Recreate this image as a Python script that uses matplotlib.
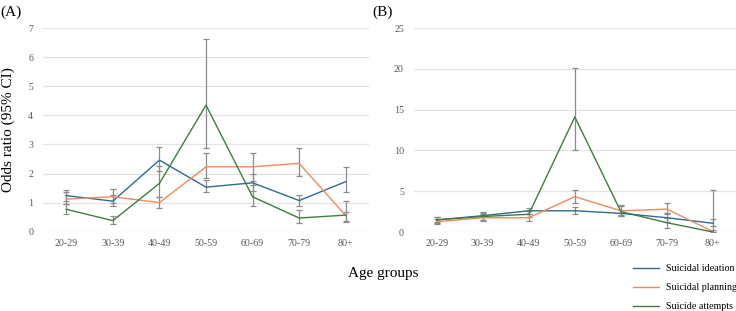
import numpy as np
import matplotlib
matplotlib.use("Agg")
import matplotlib.pyplot as plt

plt.rcParams['font.family'] = ['Liberation Serif', 'DejaVu Serif']

age_groups = ["20-29", "30-39", "40-49", "50-59", "60-69", "70-79", "80+"]
series_names = ["Suicidal ideation", "Suicidal planning", "Suicide attempts"]
colors = ["#2e6b8f", "#f08a5a", "#3f7d3f"]

# panel A: odds ratio, lower CI, upper CI
a_ideation = [1.24, 1.05, 2.46, 1.53, 1.68, 1.07, 1.72]
a_ideation_lo = [1.05, 0.90, 2.10, 1.35, 1.40, 0.90, 1.35]
a_ideation_hi = [1.42, 1.25, 2.92, 1.78, 1.97, 1.25, 2.22]
a_planning = [1.12, 1.20, 1.00, 2.23, 2.23, 2.35, 0.55]
a_planning_lo = [0.95, 0.98, 0.83, 1.85, 1.75, 1.90, 0.36]
a_planning_hi = [1.35, 1.48, 1.20, 2.72, 2.70, 2.88, 0.68]
a_attempts = [0.77, 0.38, 1.66, 4.35, 1.20, 0.47, 0.57]
a_attempts_lo = [0.60, 0.27, 1.20, 2.87, 0.88, 0.30, 0.35]
a_attempts_hi = [0.95, 0.55, 2.25, 6.61, 1.60, 0.75, 1.05]

# panel B
b_ideation = [1.47, 2.00, 2.60, 2.60, 2.29, 1.75, 1.07]
b_ideation_lo = [1.10, 1.50, 2.20, 2.20, 1.95, 1.20, 0.70]
b_ideation_hi = [1.80, 2.40, 3.00, 3.10, 2.70, 2.30, 1.60]
b_planning = [1.26, 1.75, 1.75, 4.33, 2.60, 2.80, 0.05]
b_planning_lo = [0.95, 1.40, 1.40, 3.50, 2.10, 2.20, 0.00]
b_planning_hi = [1.60, 2.20, 2.20, 5.20, 3.30, 3.50, 0.30]
b_attempts = [1.50, 1.90, 2.17, 14.10, 2.50, 1.14, 0.00]
b_attempts_lo = [1.20, 1.50, 1.80, 10.00, 2.00, 0.50, 0.00]
b_attempts_hi = [1.80, 2.30, 2.60, 20.10, 3.20, 1.70, 5.15]

panel_a = [(a_ideation, a_ideation_lo, a_ideation_hi),
           (a_planning, a_planning_lo, a_planning_hi),
           (a_attempts, a_attempts_lo, a_attempts_hi)]
panel_b = [(b_ideation, b_ideation_lo, b_ideation_hi),
           (b_planning, b_planning_lo, b_planning_hi),
           (b_attempts, b_attempts_lo, b_attempts_hi)]

fig = plt.figure(figsize=(7.36, 3.11), dpi=100)
ax_a = fig.add_axes([43/736, 79.3/311, 326/736, 203.7/311])
ax_b = fig.add_axes([413.6/736, 79/311, 322.4/736, 204/311])


def draw_panel(ax, data, ymax, ystep):
	x = np.arange(len(age_groups))
	lines = []
	for (vals, lo, hi), c, name in zip(data, colors, series_names):
		vals = np.array(vals)
		err = [vals - np.array(lo), np.array(hi) - vals]
		ln, = ax.plot(x, vals, color=c, lw=1.0, label=name, zorder=3)
		ax.errorbar(x, vals, yerr=err, fmt='none', ecolor="#8c8c8c",
			elinewidth=0.9, capsize=2, capthick=0.9, zorder=2)
		lines.append(ln)
	ax.set_xlim(-0.5, len(age_groups) - 0.5)
	ax.set_ylim(0, ymax)
	ax.set_yticks(np.arange(0, ymax + 0.1, ystep))
	ax.set_xticks(x)
	ax.set_xticklabels(age_groups)
	ax.grid(axis='y', color="#e3e3e3", lw=0.9, zorder=0)
	ax.set_axisbelow(True)
	for s in ax.spines.values():
		s.set_visible(False)
	ax.tick_params(length=0, labelsize=7.2, labelcolor="#595959", pad=5)
	ax.tick_params(axis='y', pad=7)
	return lines


lines = draw_panel(ax_a, panel_a, 7, 1)
draw_panel(ax_b, panel_b, 25, 5)

fig.text(0.0, 1 - 12/311, "(A)", fontsize=11, va='center', ha='left')
fig.text(372/736, 1 - 12/311, "(B)", fontsize=11, va='center', ha='left')
fig.text(383/736, 1 - 273/311, "Age groups", fontsize=11, va='center', ha='center')
fig.text(8/736, 1 - 130/311, "Odds ratio (95% CI)", fontsize=11, va='center',
	ha='center', rotation=90)

fig.legend(lines, series_names, loc='upper left', bbox_to_anchor=(633/736, 1 - 264/311),
	frameon=False, fontsize=7.2, handlelength=2.6, handletextpad=0.7,
	labelspacing=1.0, borderpad=0, borderaxespad=0)

fig.savefig("out.png", dpi=100)
